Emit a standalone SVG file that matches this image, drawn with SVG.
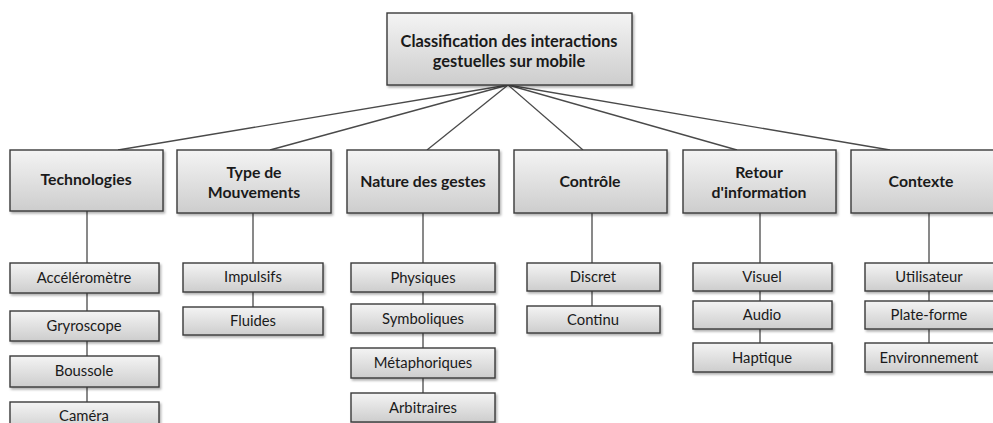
<svg xmlns="http://www.w3.org/2000/svg" width="993" height="423" viewBox="0 0 993 423">
<style>
.b{fill:url(#g);stroke:#3a3a3a;stroke-width:1.4;filter:url(#sh)}
.h{font-family:Lato,"Open Sans","Liberation Sans",sans-serif;font-weight:bold;font-size:15.8px;fill:#1a1a1a;text-anchor:middle}
.t{font-family:Lato,"Open Sans","Liberation Sans",sans-serif;font-size:14.8px;fill:#1a1a1a;text-anchor:middle}
.c line{stroke:#4a4a4a;stroke-width:1.3}
</style>
<defs>
<linearGradient id="g" x1="0" y1="0" x2="0" y2="1">
<stop offset="0" stop-color="#f4f4f4"/>
<stop offset="1" stop-color="#cdcdcd"/>
</linearGradient>
<filter id="sh" x="-10%" y="-10%" width="130%" height="140%">
<feDropShadow dx="1.5" dy="2" stdDeviation="1.2" flood-color="#000" flood-opacity="0.3"/>
</filter>
</defs>
<rect width="993" height="423" fill="#fff"/>
<g class="c" id="connectors">
<line x1="508" y1="85" x2="118" y2="150"/>
<line x1="508" y1="85" x2="270" y2="150"/>
<line x1="508" y1="85" x2="427" y2="150"/>
<line x1="508" y1="85" x2="583" y2="150"/>
<line x1="508" y1="85" x2="737" y2="150"/>
<line x1="508" y1="85" x2="890" y2="150"/>
<line x1="87" y1="211" x2="87" y2="402"/>
<line x1="253" y1="213" x2="253" y2="307"/>
<line x1="423" y1="213" x2="423" y2="393"/>
<line x1="592" y1="213" x2="592" y2="306"/>
<line x1="760" y1="213" x2="760" y2="343"/>
<line x1="929" y1="213" x2="929" y2="343"/>
</g>
<g id="root"><rect class="b" x="387" y="13" width="245" height="72"/>
<text class="h" x="509" y="47" style="font-size:16.4px">Classification des interactions</text>
<text class="h" x="509" y="67" style="font-size:16.4px">gestuelles sur mobile</text></g>
<g id="technologies"><rect class="b" x="10" y="150" width="153" height="61"/><text class="h" x="86" y="185">Technologies</text></g>
<g id="mouvements"><rect class="b" x="177" y="150" width="154" height="63"/><text class="h" x="254" y="178">Type de</text><text class="h" x="254" y="198">Mouvements</text></g>
<g id="nature"><rect class="b" x="347" y="150" width="152" height="63"/><text class="h" x="423" y="187">Nature des gestes</text></g>
<g id="controle"><rect class="b" x="514" y="150" width="153" height="63"/><text class="h" x="590" y="187">Contrôle</text></g>
<g id="retour"><rect class="b" x="683" y="150" width="153" height="63"/><text class="h" x="759" y="178">Retour</text><text class="h" x="759" y="198">d'information</text></g>
<g id="contexte"><rect class="b" x="851" y="150" width="150" height="63"/><text class="h" x="921" y="187">Contexte</text></g>

<g id="accelerometre"><rect class="b" x="10" y="263" width="149" height="30"/><text class="t" x="84" y="283">Accéléromètre</text></g>
<g id="gyroscope"><rect class="b" x="10" y="311" width="149" height="30"/><text class="t" x="84" y="331">Gryroscope</text></g>
<g id="boussole"><rect class="b" x="10" y="356" width="149" height="31"/><text class="t" x="84" y="376">Boussole</text></g>
<g id="camera"><rect class="b" x="10" y="402" width="149" height="30"/><text class="t" x="84" y="421">Caméra</text></g>

<g id="impulsifs"><rect class="b" x="183" y="263" width="140" height="29"/><text class="t" x="253" y="282">Impulsifs</text></g>
<g id="fluides"><rect class="b" x="183" y="307" width="140" height="28"/><text class="t" x="253" y="326">Fluides</text></g>

<g id="physiques"><rect class="b" x="351" y="263" width="144" height="29"/><text class="t" x="423" y="283">Physiques</text></g>
<g id="symboliques"><rect class="b" x="351" y="304" width="144" height="29"/><text class="t" x="423" y="324">Symboliques</text></g>
<g id="metaphoriques"><rect class="b" x="351" y="348" width="144" height="30"/><text class="t" x="423" y="368">Métaphoriques</text></g>
<g id="arbitraires"><rect class="b" x="351" y="393" width="144" height="29"/><text class="t" x="423" y="413">Arbitraires</text></g>

<g id="discret"><rect class="b" x="527" y="263" width="133" height="28"/><text class="t" x="593" y="282">Discret</text></g>
<g id="continu"><rect class="b" x="527" y="306" width="133" height="27"/><text class="t" x="593" y="325">Continu</text></g>

<g id="visuel"><rect class="b" x="693" y="263" width="139" height="28"/><text class="t" x="762" y="282">Visuel</text></g>
<g id="audio"><rect class="b" x="693" y="301" width="139" height="28"/><text class="t" x="762" y="320">Audio</text></g>
<g id="haptique"><rect class="b" x="693" y="343" width="139" height="29"/><text class="t" x="762" y="363">Haptique</text></g>

<g id="utilisateur"><rect class="b" x="865" y="263" width="135" height="28"/><text class="t" x="929" y="282">Utilisateur</text></g>
<g id="plateforme"><rect class="b" x="865" y="301" width="135" height="28"/><text class="t" x="929" y="320">Plate-forme</text></g>
<g id="environnement"><rect class="b" x="865" y="343" width="135" height="29"/><text class="t" x="929" y="363">Environnement</text></g>
</svg>
